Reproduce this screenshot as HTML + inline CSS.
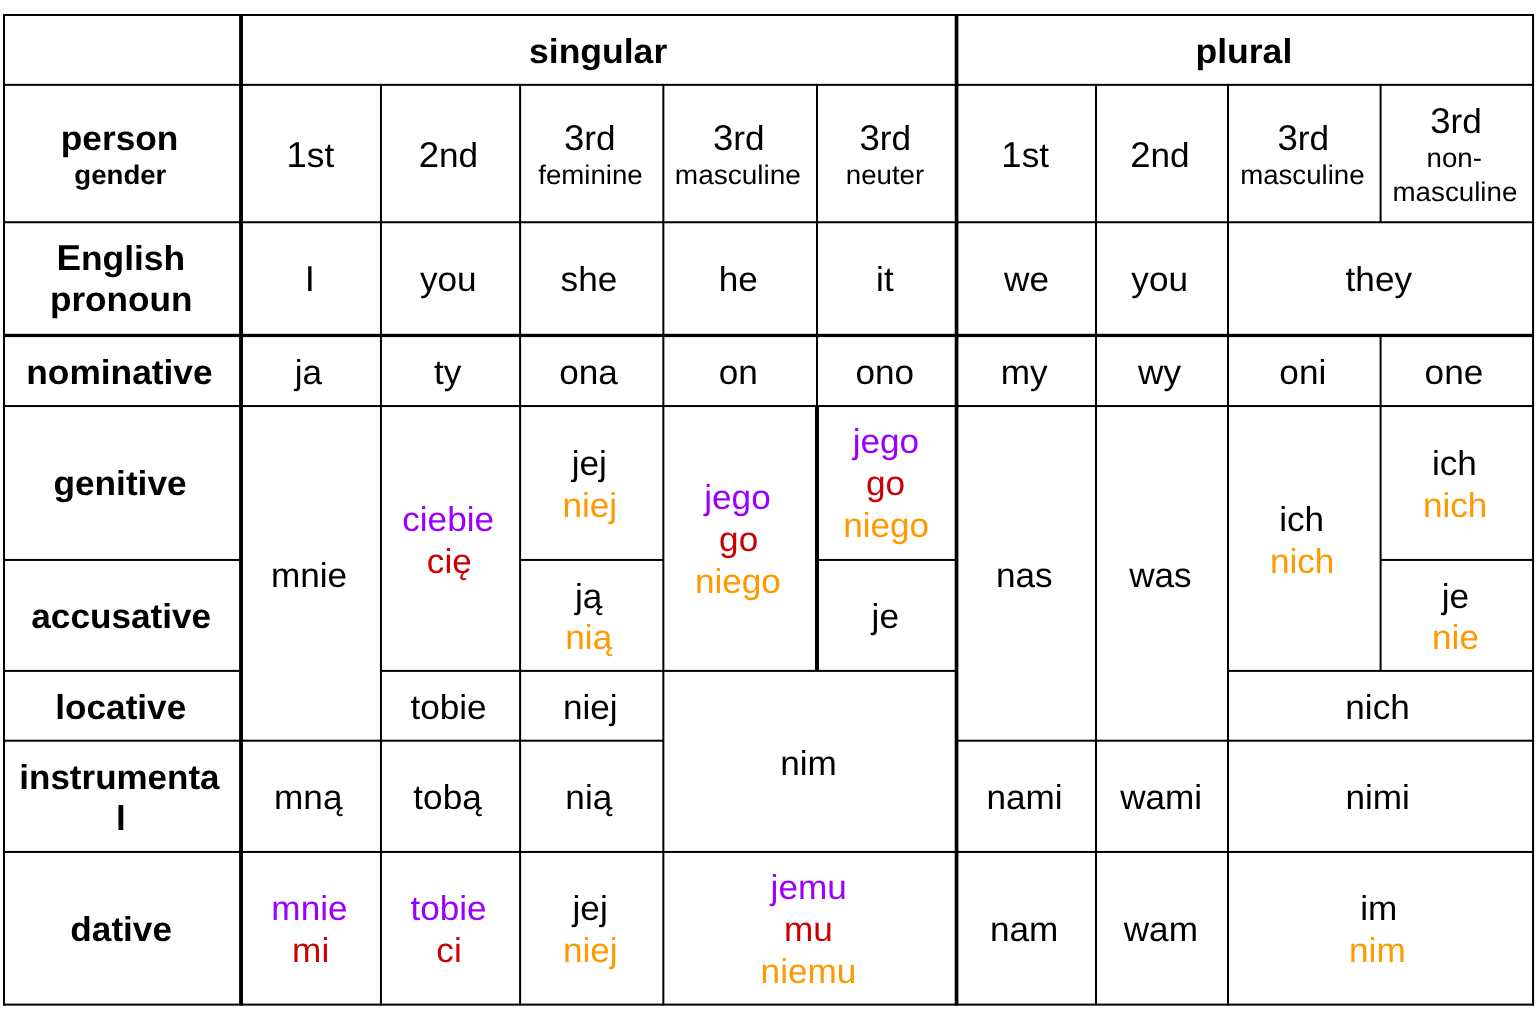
<!DOCTYPE html>
<html lang="pl">
<head>
<meta charset="utf-8">
<title>Polish personal pronouns</title>
<style>
html,body{margin:0;padding:0;background:#fff;}
body{width:1536px;height:1016px;position:relative;overflow:hidden;font-family:"Liberation Sans",sans-serif;color:#000;}
.g{position:absolute;left:0;top:0;}
.t{filter:blur(0.35px);text-rendering:geometricPrecision;will-change:transform;transform:scaleX(1.019);position:absolute;width:400px;margin-left:-200px;text-align:center;white-space:nowrap;height:40px;line-height:40px;font-size:34.5px;}
.s{font-size:27.0px;transform:scaleX(1.023);}
.d{font-size:1.04em;line-height:0;}
.b{font-weight:bold;}
.p{color:#9900ff;}
.r{color:#cc0000;}
.o{color:#ff9900;}
</style>
</head>
<body>

<!-- grid lines -->
<svg class="g" width="1536" height="1016" viewBox="0 0 1536 1016" fill="#000">
<rect x="3" y="14" width="1531.05" height="2"/>
<rect x="3" y="83.85" width="1531.05" height="2"/>
<rect x="3" y="221.25" width="1531.05" height="2"/>
<rect x="3" y="333.8" width="1531.05" height="3.3"/>
<rect x="3" y="405.05" width="1531.05" height="2"/>
<rect x="3" y="850.95" width="1531.05" height="2"/>
<rect x="3" y="1003.6" width="1531.05" height="2"/>
<rect x="3" y="558.95" width="238.05" height="2"/>
<rect x="520.1" y="558.95" width="143.25" height="2"/>
<rect x="817" y="558.95" width="139.55" height="2"/>
<rect x="1380.6" y="558.95" width="153.45" height="2"/>
<rect x="3" y="669.9" width="238.05" height="2"/>
<rect x="380.95" y="669.9" width="575.6" height="2"/>
<rect x="1228" y="669.9" width="306.05" height="2"/>
<rect x="3" y="739.7" width="660.35" height="2"/>
<rect x="956.55" y="739.7" width="577.5" height="2"/>
<rect x="3" y="14" width="2" height="991.6"/>
<rect x="239.1" y="14" width="3.9" height="991.6"/>
<rect x="379.95" y="84.85" width="2" height="920.75"/>
<rect x="519.1" y="84.85" width="2" height="920.75"/>
<rect x="662.35" y="84.85" width="2" height="920.75"/>
<rect x="816" y="84.85" width="2" height="586.05"/>
<rect x="815" y="406.05" width="4" height="264.85"/>
<rect x="954.7" y="14" width="3.7" height="991.6"/>
<rect x="1095" y="84.85" width="2" height="920.75"/>
<rect x="1227" y="84.85" width="2" height="920.75"/>
<rect x="1379.6" y="84.85" width="2" height="137.4"/>
<rect x="1379.6" y="335.45" width="2" height="335.45"/>
<rect x="1532.05" y="14" width="2" height="991.6"/>
</svg>
<!-- cell text -->
<div class="t b" style="left:598px;top:32px;transform:translateX(0.12px) scaleX(1.03)">singular</div>
<div class="t b" style="left:1244px;top:32px;transform:translateX(-0.13px) scaleX(1.031)">plural</div>
<div class="t b" style="left:120px;top:119px;transform:translateX(-0.39px) scaleX(1.022)">person</div>
<div class="t s b" style="left:120px;top:155px;transform:translateX(0.35px) scaleX(1.022)">gender</div>
<div class="t" style="left:310px;top:136px;transform:translateX(0.39px) scaleX(1.019)"><span class="d">1</span>st</div>
<div class="t" style="left:448px;top:136px;transform:translateX(0.39px) scaleX(1.019)"><span class="d">2</span>nd</div>
<div class="t" style="left:590px;top:119px;transform:translateX(-0.29px) scaleX(1.019)"><span class="d">3</span>rd</div>
<div class="t" style="left:739px;top:119px;transform:translateX(-0.17px) scaleX(1.019)"><span class="d">3</span>rd</div>
<div class="t" style="left:885px;top:119px;transform:translateX(0.33px) scaleX(1.019)"><span class="d">3</span>rd</div>
<div class="t s" style="left:591px;top:155px;transform:translateX(-0.48px) scaleX(1.023)">feminine</div>
<div class="t s" style="left:738px;top:155px;transform:translateX(-0.12px) scaleX(1.038)">masculine</div>
<div class="t s" style="left:885px;top:155px;transform:translateX(-0.04px) scaleX(1.023)">neuter</div>
<div class="t" style="left:1025px;top:136px;transform:translateX(0.15px) scaleX(1.019)"><span class="d">1</span>st</div>
<div class="t" style="left:1160px;top:136px;transform:translateX(-0.11px) scaleX(1.019)"><span class="d">2</span>nd</div>
<div class="t" style="left:1303px;top:119px;transform:translateX(0.27px) scaleX(1.019)"><span class="d">3</span>rd</div>
<div class="t s" style="left:1302px;top:155px;transform:translateX(0.33px) scaleX(1.023)">masculine</div>
<div class="t" style="left:1456px;top:102px;transform:translateX(-0.01px) scaleX(1.019)"><span class="d">3</span>rd</div>
<div class="t s" style="left:1454px;top:138px;transform:translateX(0.24px) scaleX(1.023)">non-</div>
<div class="t s" style="left:1455px;top:172px;transform:translateX(-0.06px) scaleX(1.027)">masculine</div>
<div class="t b" style="left:121px;top:239px;transform:translateX(-0.27px) scaleX(1.025)"><span class="d">E</span>nglish</div>
<div class="t b" style="left:121px;top:280px;transform:translateX(0.17px) scaleX(1.019)">pronoun</div>
<div class="t" style="left:310px;top:260px;transform:translateX(-0.1px) scaleX(1.019)"><span class="d">I</span></div>
<div class="t" style="left:448px;top:260px;transform:translateX(0.25px) scaleX(1.019)">you</div>
<div class="t" style="left:589px;top:260px;transform:translateX(-0.06px) scaleX(1.019)">she</div>
<div class="t" style="left:738px;top:260px;transform:translateX(0.21px) scaleX(1.019)">he</div>
<div class="t" style="left:885px;top:260px;transform:translateX(-0.09px) scaleX(1.019)">it</div>
<div class="t" style="left:1027px;top:260px;transform:translateX(-0.44px) scaleX(1.019)">we</div>
<div class="t" style="left:1160px;top:260px;transform:translateX(-0.35px) scaleX(1.019)">you</div>
<div class="t" style="left:1379px;top:260px;transform:translateX(-0.19px) scaleX(1.019)">they</div>
<div class="t b" style="left:119px;top:353px;transform:translateX(0.47px) scaleX(1.023)">nominative</div>
<div class="t" style="left:308px;top:353px;transform:translateX(0.5px) scaleX(1.019)">ja</div>
<div class="t" style="left:448px;top:353px;transform:translateX(-0.36px) scaleX(1.019)">ty</div>
<div class="t" style="left:589px;top:353px;transform:translateX(-0.48px) scaleX(1.019)">ona</div>
<div class="t" style="left:738px;top:353px;transform:translateX(0.22px) scaleX(1.019)">on</div>
<div class="t" style="left:885px;top:353px;transform:translateX(-0.29px) scaleX(1.019)">ono</div>
<div class="t" style="left:1024px;top:353px;transform:translateX(0.25px) scaleX(1.019)">my</div>
<div class="t" style="left:1160px;top:353px;transform:translateX(-0.49px) scaleX(1.019)">wy</div>
<div class="t" style="left:1303px;top:353px;transform:translateX(-0.16px) scaleX(1.019)">oni</div>
<div class="t" style="left:1454px;top:353px;transform:translateX(-0.08px) scaleX(1.019)">one</div>
<div class="t b" style="left:120px;top:464px;transform:translateX(0.02px) scaleX(1.022)">genitive</div>
<div class="t b" style="left:121px;top:597px;transform:translateX(0.23px) scaleX(1.019)">accusative</div>
<div class="t b" style="left:121px;top:688px;transform:translateX(-0.23px) scaleX(1.019)">locative</div>
<div class="t b" style="left:119px;top:758px;transform:translateX(0.44px) scaleX(1.014)">instrumenta</div>
<div class="t b" style="left:121px;top:799px;transform:translateX(-0.19px) scaleX(1.019)">l</div>
<div class="t b" style="left:121px;top:910px;transform:translateX(0.18px) scaleX(1.019)">dative</div>
<div class="t" style="left:309px;top:556px;transform:translateX(0.05px) scaleX(1.019)">mnie</div>
<div class="t p" style="left:448px;top:500px;transform:translateX(0.16px) scaleX(1.019)">ciebie</div>
<div class="t r" style="left:449px;top:542px;transform:translateX(0.28px) scaleX(1.019)">cię</div>
<div class="t" style="left:589px;top:444px;transform:translateX(0.34px) scaleX(1.019)">jej</div>
<div class="t o" style="left:590px;top:486px;transform:translateX(-0.25px) scaleX(1.019)">niej</div>
<div class="t" style="left:589px;top:577px;transform:translateX(-0.27px) scaleX(1.019)">ją</div>
<div class="t o" style="left:589px;top:618px;transform:translateX(-0.24px) scaleX(1.019)">nią</div>
<div class="t p" style="left:737px;top:478px;transform:translateX(0.48px) scaleX(1.019)">jego</div>
<div class="t r" style="left:739px;top:520px;transform:translateX(-0.36px) scaleX(1.019)">go</div>
<div class="t o" style="left:738px;top:562px;transform:translateX(-0.08px) scaleX(1.019)">niego</div>
<div class="t p" style="left:886px;top:422px;transform:translateX(-0.09px) scaleX(1.019)">jego</div>
<div class="t r" style="left:886px;top:464px;transform:translateX(-0.38px) scaleX(1.019)">go</div>
<div class="t o" style="left:886px;top:506px;transform:translateX(0.17px) scaleX(1.019)">niego</div>
<div class="t" style="left:885px;top:597px;transform:translateX(0.28px) scaleX(1.019)">je</div>
<div class="t" style="left:1024px;top:556px;transform:translateX(0.23px) scaleX(1.019)">nas</div>
<div class="t" style="left:1160px;top:556px;transform:translateX(0.44px) scaleX(1.019)">was</div>
<div class="t" style="left:1302px;top:500px;transform:translateX(-0.37px) scaleX(1.019)">ich</div>
<div class="t o" style="left:1302px;top:542px;transform:translateX(0.18px) scaleX(1.019)">nich</div>
<div class="t" style="left:1454px;top:444px;transform:translateX(0.39px) scaleX(1.019)">ich</div>
<div class="t o" style="left:1455px;top:486px;transform:translateX(0.16px) scaleX(1.019)">nich</div>
<div class="t" style="left:1455px;top:577px;transform:translateX(0.4px) scaleX(1.019)">je</div>
<div class="t o" style="left:1456px;top:618px;transform:translateX(-0.48px) scaleX(1.019)">nie</div>
<div class="t" style="left:449px;top:688px;transform:translateX(-0.48px) scaleX(1.019)">tobie</div>
<div class="t" style="left:590px;top:688px;transform:translateX(0.33px) scaleX(1.019)">niej</div>
<div class="t" style="left:809px;top:744px;transform:translateX(-0.48px) scaleX(1.019)">nim</div>
<div class="t" style="left:1378px;top:688px;transform:translateX(-0.43px) scaleX(1.019)">nich</div>
<div class="t" style="left:308px;top:778px;transform:translateX(0.25px) scaleX(1.019)">mną</div>
<div class="t" style="left:448px;top:778px;transform:translateX(-0.43px) scaleX(1.019)">tobą</div>
<div class="t" style="left:589px;top:778px;transform:translateX(-0.17px) scaleX(1.019)">nią</div>
<div class="t" style="left:1025px;top:778px;transform:translateX(-0.47px) scaleX(1.019)">nami</div>
<div class="t" style="left:1161px;top:778px;transform:translateX(0.16px) scaleX(1.019)">wami</div>
<div class="t" style="left:1378px;top:778px;transform:translateX(-0.33px) scaleX(1.019)">nimi</div>
<div class="t p" style="left:309px;top:889px;transform:translateX(0.47px) scaleX(1.019)">mnie</div>
<div class="t r" style="left:311px;top:931px;transform:translateX(-0.35px) scaleX(1.019)">mi</div>
<div class="t p" style="left:449px;top:889px;transform:translateX(-0.48px) scaleX(1.019)">tobie</div>
<div class="t r" style="left:449px;top:931px;transform:translateX(0.08px) scaleX(1.019)">ci</div>
<div class="t" style="left:590px;top:889px;transform:translateX(0.11px) scaleX(1.019)">jej</div>
<div class="t o" style="left:590px;top:931px;transform:translateX(0.33px) scaleX(1.019)">niej</div>
<div class="t p" style="left:809px;top:868px;transform:translateX(-0.32px) scaleX(1.019)">jemu</div>
<div class="t r" style="left:808px;top:910px;transform:translateX(0.37px) scaleX(1.019)">mu</div>
<div class="t o" style="left:808px;top:952px;transform:translateX(0.47px) scaleX(1.019)">niemu</div>
<div class="t" style="left:1024px;top:910px;transform:translateX(0.19px) scaleX(1.019)">nam</div>
<div class="t" style="left:1161px;top:910px;transform:translateX(-0.19px) scaleX(1.019)">wam</div>
<div class="t" style="left:1379px;top:889px;transform:translateX(-0.28px) scaleX(1.019)">im</div>
<div class="t o" style="left:1377px;top:931px;transform:translateX(0.37px) scaleX(1.019)">nim</div>
</body>
</html>
